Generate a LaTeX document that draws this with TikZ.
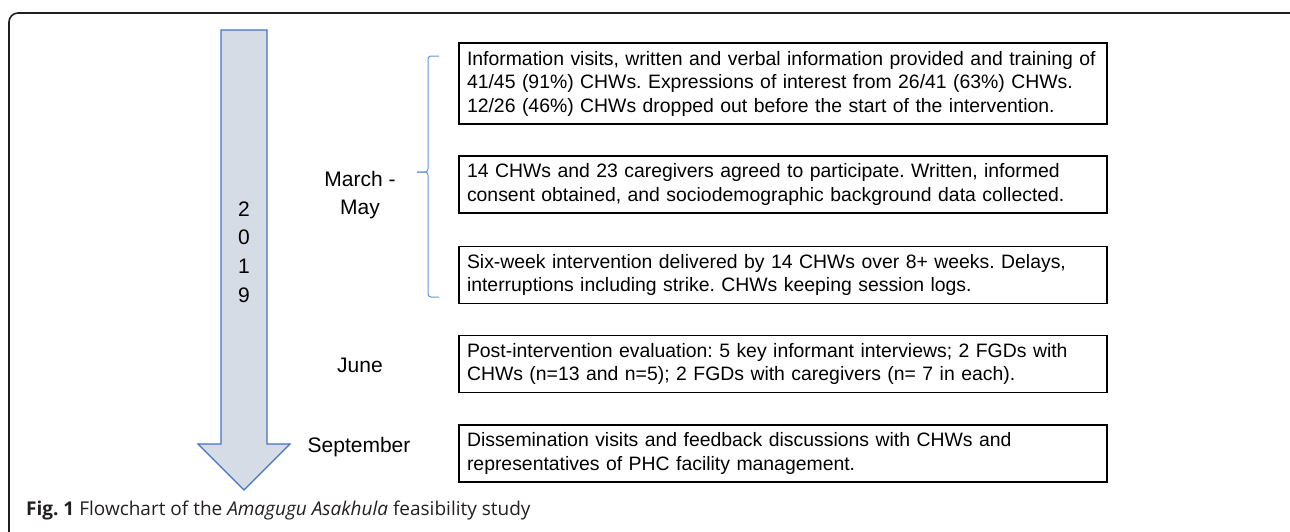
\documentclass[tikz,border=0pt]{standalone}
\usepackage{fontspec}
\setmainfont{Liberation Sans}
\newfontfamily\capfont{Open Sans}
\usepackage{xcolor}
\usetikzlibrary{positioning}

\definecolor{arrowfill}{HTML}{D6DCE5}
\definecolor{arrowline}{HTML}{4472C4}
\definecolor{bracecol}{HTML}{6393DA}
\definecolor{captext}{HTML}{231F20}

\begin{document}
\frenchspacing
\begin{tikzpicture}[x=1pt, y=-1pt,
    stage/.style={rectangle, draw, line width=1.4pt, text width=632pt, inner xsep=8pt, inner ysep=0pt, align=left, font=\fontsize{19.4}{23.5}\selectfont},
    month/.style={align=center, font=\fontsize{21}{27.5}\selectfont},
    bracket/.style={draw=bracecol, line width=1pt, rounded corners=3pt}
]
\clip (0,0) rectangle (1290,531);

% frame
\draw[captext, line width=1.6pt, rounded corners=9pt] (9,13) rectangle (1300,620);

% timeline arrow
\draw[arrowline, fill=arrowfill, line width=1.2pt] (221,30) -- (267,30) -- (267,444) -- (290,444) -- (244,490) -- (198,444) -- (221,444) -- cycle;
\node[month, font=\fontsize{21}{28.7}\selectfont] (year) at (244,252) {2\\0\\1\\9};

% months
\node[month] (marmay) at (360,195) {March -\\May};
\node[month, anchor=base] (june) at (360,372) {June};
\node[month, anchor=base] (sept) at (359,452) {September};

% stages
\node[stage, minimum height=81pt] (info) at (783,83.5) {Information visits, written and verbal information provided and training of\\41/45 (91\%) CHWs. Expressions of interest from 26/41 (63\%) CHWs.\\12/26 (46\%) CHWs dropped out before the start of the intervention.};
\node[stage, minimum height=57pt] (consent) at (783,184.5) {14 CHWs and 23 caregivers agreed to participate. Written, informed\\consent obtained, and sociodemographic background data collected.};
\node[stage, minimum height=57pt] (deliver) at (783,275) {Six-week intervention delivered by 14 CHWs over 8+ weeks. Delays,\\interruptions including strike. CHWs keeping session logs.};
\node[stage, minimum height=57pt] (eval) at (783,364) {Post-intervention evaluation: 5 key informant interviews; 2 FGDs with\\CHWs (n=13 and n=5); 2 FGDs with caregivers (n= 7 in each).};
\node[stage, minimum height=57pt] (dissem) at (783,453.5) {Dissemination visits and feedback discussions with CHWs and\\representatives of PHC facility management.};

% brace for March - May
\coordinate (tip) at (417,172);
\draw[bracket] (439,56) -- (428,56) -- (428,172) -- (tip);
\draw[bracket] (tip) -- (428,172) -- (428,297) -- (439,297);

% caption
\node[anchor=base west, inner sep=0pt, text=captext, font=\capfont\fontsize{19}{22}\selectfont] (caption) at (26,515) {\textbf{Fig. 1} Flowchart of the \textit{Amagugu Asakhula} feasibility study};
\end{tikzpicture}
\end{document}
